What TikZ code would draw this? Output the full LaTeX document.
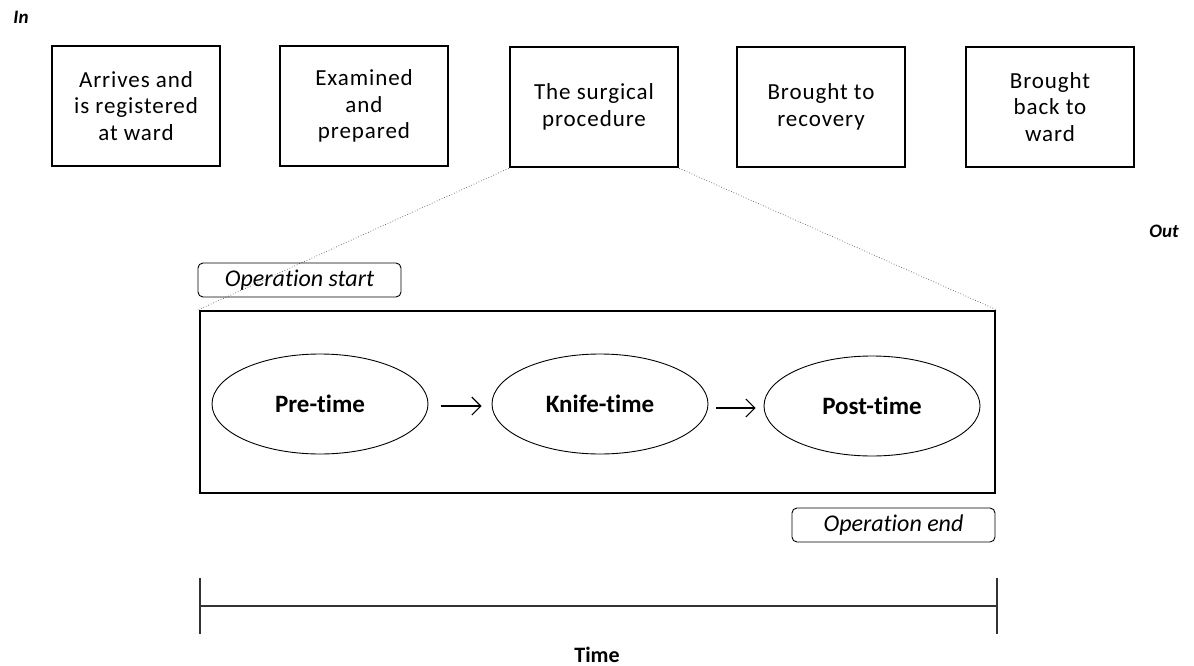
\documentclass[tikz,border=0pt]{standalone}
\usepackage{fontspec}
\setmainfont{Carlito}[Ligatures=NoCommon]
\usetikzlibrary{shapes.geometric,arrows.meta}
\begin{document}
\begin{tikzpicture}[x=1pt,y=-1pt,
  stagebox/.style={draw,line width=2.6pt,minimum width=168pt,minimum height=120pt,align=center,
    font=\fontsize{23}{26.5}\selectfont\addfontfeatures{LetterSpace=4},inner sep=0pt},
  phase/.style={draw,ellipse,line width=0.9pt,minimum width=216pt,minimum height=100pt,
    font=\bfseries\fontsize{25}{28}\selectfont,inner sep=0pt},
  tag/.style={draw,rounded corners=5pt,line width=0.9pt,inner sep=0pt,
    font=\itshape\fontsize{24}{26}\selectfont},
  zoomline/.style={dotted,line width=0.7pt,gray!70!black},
  flow/.style={-{Straight Barb[length=9pt,width=18pt]},line width=1.1pt},
  axis/.style={line width=1.2pt,black!80}]
\useasboundingbox (0,0) rectangle (1194,666);
\node[font=\bfseries\itshape\fontsize{19}{21}\selectfont] (in) at (21,17) {In};
\node[font=\bfseries\itshape\fontsize{19}{21}\selectfont] (out) at (1164,231) {Out};
\node[stagebox] (s1) at (136,106) {Arrives and\\is registered\\at ward};
\node[stagebox] (s2) at (364,106) {Examined\\and\\prepared};
\node[stagebox] (s3) at (594,107) {The surgical\\procedure};
\node[stagebox] (s4) at (821,107) {Brought to\\recovery};
\node[stagebox] (s5) at (1050,107) {Brought\\back to\\ward};
\node[draw,line width=2.6pt,minimum width=795pt,minimum height=182pt,inner sep=0pt] (op) at (597.5,402) {};
\draw[zoomline] (s3.south west) -- (op.north west);
\draw[zoomline] (s3.south east) -- (op.north east);
\node[tag,minimum width=203pt,minimum height=34pt] (start) at (299.5,280) {Operation start};
\node[tag,minimum width=203pt,minimum height=34pt] (end) at (893.5,525) {Operation end};
\node[phase] (pre) at (320,404) {Pre-time};
\node[phase] (knife) at (600,404) {Knife-time};
\node[phase] (post) at (872,406) {Post-time};
\draw[flow] ([shift={(13,2)}]pre.east) -- ([shift={(-10,2)}]knife.west);
\draw[flow] ([shift={(8,4)}]knife.east) -- ([shift={(-8,2)}]post.west);
\coordinate (tl) at (200,606);
\coordinate (tr) at (997,606);
\draw[axis] (tl) -- (tr);
\draw[axis] ([yshift=-28pt]tl) -- ([yshift=28pt]tl);
\draw[axis] ([yshift=-28pt]tr) -- ([yshift=28pt]tr);
\node[font=\bfseries\fontsize{22}{24}\selectfont] (time) at (597,655) {Time};
\end{tikzpicture}
\end{document}
